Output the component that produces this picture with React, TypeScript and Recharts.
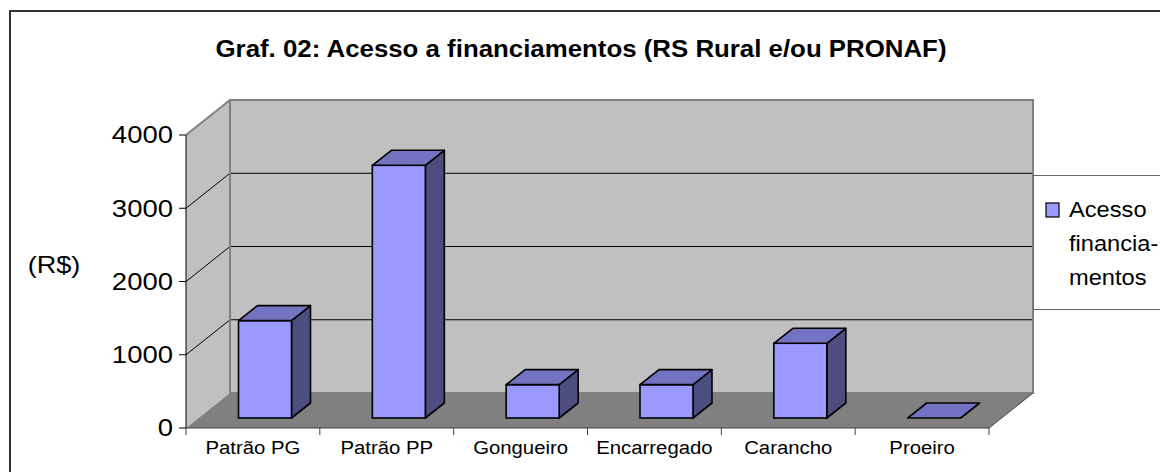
import React from 'react';
import * as R from 'recharts';
import { BarChart, Bar, XAxis, YAxis, Legend } from 'recharts';

const categories = ['Patrão PG', 'Patrão PP', 'Gongueiro', 'Encarregado', 'Carancho', 'Proeiro'];
const values = [1330, 3450, 455, 455, 1020, 0];
const yTicks = [0, 1000, 2000, 3000, 4000];
const seriesName = 'Acesso a financiamentos';
const legendLines = ['Acesso', 'financia-', 'mentos'];
const title = 'Graf. 02: Acesso a financiamentos (RS Rural e/ou PRONAF)';
const yLabel = '(R$)';

const data = categories.map((c, i) => ({ name: c, v: values[i] }));

const FONT = '"Liberation Sans", Arial, sans-serif';
const DX = 44;
const DY = 35;
const BAR_FX = 12.5;
const BAR_FY = 10;
const BAR_DX = 19;
const BAR_DY = 15;
const Y_MAX = yTicks[yTicks.length - 1];

const usePA = (R as any).usePlotArea || (R as any).useOffset;

function Walls() {
  const pa = usePA ? usePA() : null;
  if (!pa) return null;
  const x = pa.x ?? pa.left;
  const y = pa.y ?? pa.top;
  const w = pa.width;
  const h = pa.height;
  const bottom = y + h;
  const yOf = (v: number) => bottom - (v / Y_MAX) * h;
  const n = categories.length;
  return (
    <g>
      <polygon points={`${x},${y} ${x + DX},${y - DY} ${x + DX},${bottom - DY} ${x},${bottom}`} fill="#c0c0c0" />
      <rect x={x + DX} y={y - DY} width={w} height={h} fill="#c0c0c0" />
      <polygon points={`${x},${bottom} ${x + DX},${bottom - DY} ${x + w + DX},${bottom - DY} ${x + w},${bottom}`} fill="#808080" />
      {yTicks.filter((t) => t > 0 && t < Y_MAX).map((t) => (
        <g key={t}>
          <line x1={x + DX} y1={yOf(t) - DY} x2={x + w + DX} y2={yOf(t) - DY} stroke="#000" strokeWidth={1} />
          <line x1={x} y1={yOf(t)} x2={x + DX} y2={yOf(t) - DY} stroke="#000" strokeWidth={1} />
        </g>
      ))}
      <rect x={x + DX} y={y - DY} width={w} height={h} fill="none" stroke="#808080" strokeWidth={2} />
      <line x1={x} y1={y} x2={x + DX} y2={y - DY} stroke="#808080" strokeWidth={2} />
      <line x1={x + w} y1={bottom} x2={x + w + DX} y2={bottom - DY} stroke="#404040" strokeWidth={1} />
      {Array.from({ length: n + 1 }, (_, k) => (
        <line key={k} x1={x + (k * w) / n} y1={bottom} x2={x + (k * w) / n} y2={bottom + 7} stroke="#404040" strokeWidth={1} />
      ))}
    </g>
  );
}

function Bar3D(props: any) {
  const { x, y, width, height } = props;
  if (x == null || y == null) return null;
  const fx = x + BAR_FX;
  const fy = y - BAR_FY;
  const h = Math.max(0, height);
  const top = `${fx},${fy} ${fx + BAR_DX},${fy - BAR_DY} ${fx + width + BAR_DX},${fy - BAR_DY} ${fx + width},${fy}`;
  const side = `${fx + width},${fy} ${fx + width + BAR_DX},${fy - BAR_DY} ${fx + width + BAR_DX},${fy + h - BAR_DY} ${fx + width},${fy + h}`;
  return (
    <g>
      {h > 0 && <polygon points={side} fill="#4d4d80" stroke="#000" strokeWidth={1.6} strokeLinejoin="round" />}
      {h > 0 && <rect x={fx} y={fy} width={width} height={h} fill="#9999ff" stroke="#000" strokeWidth={1.6} />}
      <polygon points={top} fill="#7373c2" stroke="#000" strokeWidth={1.6} strokeLinejoin="round" />
    </g>
  );
}

function YTick(p: any) {
  return (
    <text transform={`translate(${p.x},${p.y}) scale(1.17,1)`} textAnchor="end" dominantBaseline="central" fontFamily={FONT} fontSize={23.5} fill="#000">
      {p.payload.value}
    </text>
  );
}

function XTick(p: any) {
  return (
    <text transform={`translate(${p.x},${p.y + 26}) scale(1.13,1)`} textAnchor="middle" fontFamily={FONT} fontSize={18} fill="#000">
      {p.payload.value}
    </text>
  );
}

function LegendBox(props: any) {
  const item = props.payload && props.payload[0];
  const color = item ? item.color : '#9999ff';
  return (
    <div style={{ position: 'relative', width: 200, height: 135, boxSizing: 'border-box', border: '1px solid #666', background: '#fff' }}>
      <svg width={200} height={135} style={{ position: 'absolute', left: 0, top: 0 }}>
        <rect x={12} y={27} width={13} height={14} fill={color} stroke="#000" strokeWidth={1.2} />
        {legendLines.map((l, i) => (
          <text key={i} transform={`translate(35,${41 + i * 34}) scale(1.1,1)`} fontFamily={FONT} fontSize={21.5} fill="#000">{l}</text>
        ))}
      </svg>
    </div>
  );
}

export default function App() {
  return (
    <div style={{ position: 'absolute', left: 0, top: 0, width: 1160, height: 472, overflow: 'hidden', background: '#fff' }}>
      <BarChart width={1160} height={472} data={data} margin={{ top: 135, right: 171, bottom: 14, left: 0 }} barSize={53}>
        <Walls />
        <XAxis dataKey="name" interval={0} tickLine={false} tickSize={0} tickMargin={0} height={30} axisLine={{ stroke: '#404040', strokeWidth: 1 }} tick={<XTick />} />
        <YAxis domain={[0, Y_MAX]} ticks={yTicks} interval={0} width={186} tickSize={7} tickMargin={6} axisLine={{ stroke: '#000', strokeWidth: 1 }} tickLine={{ stroke: '#000' }} tick={<YTick />} />
        <Bar dataKey="v" name={seriesName} fill="#9999ff" shape={<Bar3D />} isAnimationActive={false} />
        <Legend layout="vertical" align="center" verticalAlign="middle" wrapperStyle={{ position: 'absolute', left: 1033, top: 175, width: 200, height: 135 }} content={<LegendBox />} />
      </BarChart>
      <svg width={1160} height={472} style={{ position: 'absolute', left: 0, top: 0, pointerEvents: 'none' }}>
        <rect x={10} y={11} width={1300} height={600} fill="none" stroke="#333" strokeWidth={2} />
        <text x={581} y={57} textAnchor="middle" fontFamily={FONT} fontWeight="bold" fontSize={23} textLength={731} lengthAdjust="spacingAndGlyphs" fill="#000">{title}</text>
        <text transform="translate(54,273) scale(1.13,1)" textAnchor="middle" fontFamily={FONT} fontSize={24} fill="#000">{yLabel}</text>
      </svg>
    </div>
  );
}
